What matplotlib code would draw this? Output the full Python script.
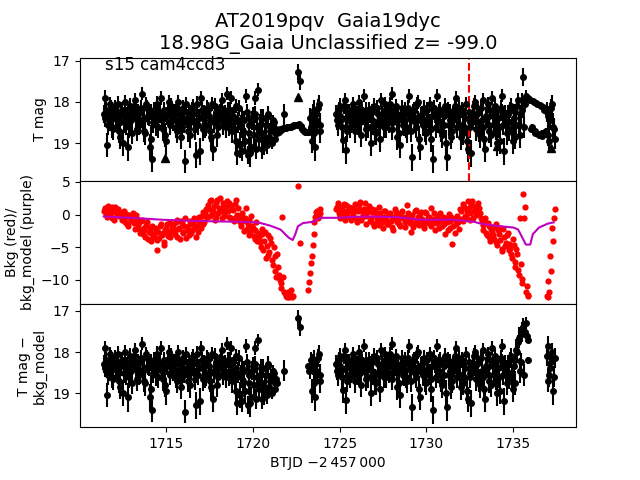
import numpy as np
import matplotlib
matplotlib.use("Agg")
import matplotlib.pyplot as plt

nan = np.nan

# cadences (BTJD): two interleaved 0.1 d grids per orbit
grid_a = (1711.4, 1723.9, 126)
grid_c = (1711.45, 1723.85, 125)
grid_b = (1724.8, 1737.4, 127)
grid_d = (1724.85, 1737.35, 126)

# ---- orbit 1, grid a ----
tmag_a = [18.30, 17.90, 19.05, 18.45, 18.15, 18.60, 18.25, 18.40, 18.05, 18.70,
          18.35, 19.00, 18.20, 18.55, 19.10, 18.10, 18.45, 18.30, 17.95, 18.65,
          18.25, 18.50, 17.80, 18.40, 18.75, 18.15, 18.35, 18.90, 19.40, 18.20,
          18.55, 18.05, 18.30, 17.90, 18.65, 18.40, 18.95, 18.20, 18.50, 18.10,
          18.45, 18.25, 18.70, 18.00, 18.35, 18.60, 18.15, 19.45, 18.40, 18.30,
          18.80, 18.20, 18.50, 19.30, 18.05, 18.40, 17.90, 18.65, 18.30, 18.55,
          18.20, 18.45, 18.85, 19.15, 18.10, 18.35, 18.60, 18.25, 17.95, 18.50,
          18.30, 17.80, 18.55, 18.20, 18.70, 18.40, 18.95, 19.25, 18.15, 18.60,
          19.20, 18.45, 17.85, 19.30, 18.75, 19.10, 18.35, 17.90, 19.15, 17.70,
          18.55, 19.15, 18.40, 18.85, 19.05, 18.30, 18.70, 19.00, 18.50, 18.90,
          18.75, 18.72, 18.68, 18.65, 18.30, 18.63, 18.62, 18.60, 18.60, 18.58,
          18.57, 18.55, 17.27, 17.49, 18.60, 18.68, 18.72, 18.74, 18.73, 18.40,
          18.95, 18.20, 19.10, 18.50, 18.05, 18.70]
err_a = [0.22, 0.18, 0.30, 0.25, 0.20, 0.28, 0.21, 0.24, 0.19, 0.30,
         0.23, 0.32, 0.20, 0.26, 0.35, 0.19, 0.25, 0.22, 0.18, 0.29,
         0.21, 0.27, 0.16, 0.24, 0.31, 0.20, 0.23, 0.33, 0.30, 0.21,
         0.27, 0.19, 0.22, 0.17, 0.29, 0.24, 0.33, 0.21, 0.26, 0.19,
         0.25, 0.21, 0.30, 0.18, 0.23, 0.28, 0.20, 0.28, 0.24, 0.22,
         0.31, 0.20, 0.26, 0.32, 0.19, 0.24, 0.17, 0.29, 0.22, 0.27,
         0.21, 0.25, 0.32, 0.30, 0.19, 0.23, 0.28, 0.21, 0.18, 0.26,
         0.22, 0.16, 0.27, 0.20, 0.30, 0.24, 0.33, 0.28, 0.20, 0.28,
         0.25, 0.24, 0.17, 0.22, 0.30, 0.25, 0.22, 0.17, 0.24, 0.15,
         0.25, 0.24, 0.22, 0.26, 0.22, 0.20, 0.18, 0.15, 0.12, 0.10,
         0.08, 0.06, 0.06, 0.06, 0.25, 0.06, 0.06, 0.06, 0.06, 0.06,
         0.06, 0.06, 0.20, 0.22, 0.06, 0.06, 0.06, 0.06, 0.07, 0.25,
         0.30, 0.24, 0.33, 0.28, 0.22, 0.30]
bkg_a = [0.5, 1.0, -0.3, 0.8, 0.2, 1.2, -0.8, 0.4, 0.9, -0.2,
         0.3, -0.6, -1.2, 0.1, -1.8, -0.4, -1.0, 0.2, -2.2, -0.7,
         -1.5, -2.8, -0.9, -2.0, -3.4, -1.2, -2.6, -4.0, -1.8, -3.1,
         -2.3, -5.5, -3.6, -1.4, -2.9, -4.2, -2.0, -3.3, -1.1, -2.5,
         -1.6, -3.0, -0.8, -2.2, -3.8, -1.3, -2.7, -0.5, -1.9, -3.2,
         -1.0, -2.4, -0.6, -3.5, -1.7, -0.3, -2.1, 0.4, -1.2, 0.8,
         1.5, -0.2, 2.3, 0.6, -0.8, 1.8, 0.2, 2.6, -0.5, 1.1,
         0.4, 2.0, -0.3, 1.4, 0.9, -1.0, 2.2, 0.0, -0.7, -1.8,
         -0.4, -2.5, 1.0, -1.5, -3.2, -0.2, -2.0, -3.8, -1.2, -2.8,
         -4.2, -3.0, -5.5, -2.6, -4.8, -6.2, -3.6, -7.0, -5.0, -8.7,
         -6.0, -9.2, -10.5, -0.3, -11.8, -12.5, -12.2, -12.7, -11.5, -12.4,
         nan, nan, 4.4, -4.4, nan, nan, nan, nan, -11.5, -9.0,
         -6.4, -3.0, -0.3, 0.6, -0.2, 0.9]
tmag_corr_a = tmag_a[:101] + [nan, nan, nan, 18.45, nan, nan, nan, nan, nan, nan,
                              nan, 17.17, 17.39, nan, nan, nan, nan, 18.35, 18.40,
                              18.95, 18.20, 19.10, 18.50, 18.05, 18.70]

# ---- orbit 1, grid c ----
tmag_c = [18.40, 18.20, 18.55, 18.05, 18.35, 18.65, 18.15, 18.45, 18.30, 18.85,
          18.20, 18.50, 18.00, 18.35, 18.60, 18.25, 18.75, 18.10, 18.40, 18.30,
          18.55, 18.15, 18.45, 18.70, 18.05, 18.35, 19.10, 18.25, 18.50, 18.40,
          18.10, 18.60, 18.30, 18.45, 18.20, 18.80, 18.35, 18.00, 18.55, 18.40,
          18.30, 18.60, 18.15, 18.45, 18.85, 18.25, 18.50, 18.05, 18.70, 18.35,
          18.45, 18.10, 18.65, 18.30, 18.55, 19.20, 18.20, 18.40, 18.60, 18.15,
          18.35, 18.70, 18.05, 18.50, 18.25, 18.80, 18.40, 18.15, 18.55, 18.30,
          18.60, 18.20, 18.45, 17.90, 18.35, 18.65, 18.10, 18.50, 19.05, 18.40,
          18.70, 18.95, 18.25, 18.55, 19.25, 18.45, 18.80, 18.30, 18.60, 18.90,
          18.40, 18.75, 19.00, 18.55, 18.35, 18.85, 18.60, 18.45, 18.75, 18.65,
          18.70, 18.67, 18.66, 18.64, 18.63, 18.62, 18.61, 18.60, 18.59, 18.57,
          18.56, 18.55, 18.54, 18.58, 18.65, 18.70, 18.73, 18.74, 18.72, 18.60,
          18.30, 18.75, 18.45, 18.15, 18.55]
err_c = [0.21, 0.19, 0.25, 0.18, 0.22, 0.27, 0.20, 0.24, 0.21, 0.30,
         0.19, 0.25, 0.17, 0.22, 0.27, 0.20, 0.28, 0.18, 0.23, 0.21,
         0.26, 0.19, 0.24, 0.28, 0.18, 0.22, 0.32, 0.20, 0.25, 0.23,
         0.18, 0.27, 0.21, 0.24, 0.19, 0.29, 0.22, 0.17, 0.26, 0.23,
         0.21, 0.27, 0.19, 0.24, 0.30, 0.20, 0.25, 0.18, 0.28, 0.22,
         0.24, 0.18, 0.27, 0.21, 0.26, 0.33, 0.19, 0.23, 0.27, 0.19,
         0.22, 0.28, 0.18, 0.25, 0.20, 0.29, 0.23, 0.19, 0.26, 0.21,
         0.27, 0.19, 0.24, 0.16, 0.22, 0.28, 0.18, 0.25, 0.31, 0.23,
         0.28, 0.31, 0.20, 0.26, 0.33, 0.24, 0.29, 0.21, 0.27, 0.30,
         0.22, 0.25, 0.28, 0.22, 0.20, 0.22, 0.18, 0.14, 0.12, 0.10,
         0.07, 0.06, 0.06, 0.06, 0.06, 0.06, 0.06, 0.06, 0.06, 0.06,
         0.06, 0.06, 0.06, 0.06, 0.06, 0.06, 0.06, 0.06, 0.08, 0.20,
         0.25, 0.30, 0.25, 0.22, 0.27]
bkg_c = [0.9, 0.1, 1.3, 0.4, -0.5, 0.7, 1.1, -0.1, 0.6, 0.2,
         -0.8, 0.5, -0.3, -1.5, 0.0, -0.9, -0.4, -1.3, -0.1, -1.6,
         -2.2, -1.0, -3.0, -2.4, -1.6, -3.7, -2.1, -2.9, -3.5, -2.0,
         -3.9, -2.7, -1.8, -3.2, -4.6, -2.4, -1.5, -2.8, -3.4, -1.9,
         -2.4, -1.2, -3.4, -2.0, -1.0, -2.9, -1.7, -3.6, -2.3, -1.4,
         -2.8, -1.5, -2.0, -0.9, -2.6, -1.1, -0.2, -1.5, 0.3, -0.4,
         0.9, 2.0, 0.1, 1.3, -0.3, 2.2, 1.0, 0.5, 1.7, -0.2,
         1.2, 0.6, 1.8, -0.5, 0.7, 1.6, -0.4, 1.0, -1.2, 0.3,
         -1.0, -0.6, -2.2, -0.9, -2.6, -1.7, -3.3, -2.3, -4.0, -3.5,
         -5.0, -2.2, -4.0, -6.6, -3.2, -5.8, -4.4, -7.8, -6.3, -9.5,
         -8.0, -10.0, -11.2, -9.5, -12.0, -12.6, -11.9, -12.3, -12.6, nan,
         nan, nan, nan, nan, nan, nan, nan, nan, -10.4, -7.4,
         -4.6, -1.2, 0.4, -0.6, 0.2]
tmag_corr_c = tmag_c[:100] + [nan] * 18 + [18.45, 18.20, 18.30, 18.75, 18.45, 18.15, 18.55]

# ---- orbit 2, grid b ----
tmag_b = [18.30, 18.55, 18.10, 18.45, 18.93, 17.95, 19.17, 18.25, 18.60, 18.40,
          18.15, 18.70, 18.35, 18.00, 18.50, 18.25, 17.85, 18.65, 18.40, 18.20,
          19.00, 18.45, 18.10, 18.75, 18.30, 18.55, 17.95, 18.40, 18.20, 18.60,
          18.35, 18.05, 17.80, 18.50, 18.25, 18.85, 18.40, 19.05, 18.15, 18.55,
          18.30, 18.70, 17.85, 18.45, 19.35, 18.20, 18.60, 18.00, 18.90, 18.35,
          18.55, 18.15, 18.75, 18.40, 18.05, 18.65, 19.40, 18.30, 17.85, 18.50,
          18.20, 18.80, 18.35, 18.10, 19.35, 18.55, 18.25, 18.70, 18.40, 17.90,
          18.45, 18.15, 18.85, 18.30, 18.60, 18.05, 19.15, 18.50, 19.25, 18.35,
          18.00, 18.65, 18.25, 18.80, 18.45, 17.95, 19.15, 18.40, 18.70, 18.20,
          17.90, 18.55, 18.35, 19.00, 18.60, 18.15, 17.85, 19.20, 18.45, 18.30,
          18.65, 18.10, 18.95, 18.25, 18.55, 17.95, 18.80, 18.20, 17.40, 18.05,
          17.90, 17.92, 17.95, 18.60, 18.00, 18.75, 18.05, 18.80, 18.10, 18.75,
          18.20, 18.70, 18.35, 18.95, 18.15, 18.60, 18.90]
err_b = [0.22, 0.27, 0.19, 0.24, 0.31, 0.17, 0.33, 0.21, 0.28, 0.24,
         0.20, 0.30, 0.23, 0.18, 0.26, 0.21, 0.16, 0.29, 0.24, 0.20,
         0.32, 0.25, 0.19, 0.30, 0.22, 0.27, 0.17, 0.24, 0.20, 0.28,
         0.23, 0.18, 0.16, 0.26, 0.21, 0.31, 0.24, 0.32, 0.20, 0.27,
         0.22, 0.29, 0.17, 0.25, 0.33, 0.20, 0.28, 0.18, 0.31, 0.23,
         0.27, 0.19, 0.30, 0.24, 0.18, 0.28, 0.34, 0.22, 0.16, 0.26,
         0.20, 0.31, 0.23, 0.19, 0.33, 0.27, 0.21, 0.30, 0.24, 0.17,
         0.25, 0.19, 0.32, 0.22, 0.28, 0.18, 0.31, 0.26, 0.33, 0.23,
         0.18, 0.29, 0.21, 0.31, 0.25, 0.17, 0.32, 0.24, 0.30, 0.20,
         0.17, 0.27, 0.23, 0.32, 0.28, 0.20, 0.16, 0.33, 0.25, 0.22,
         0.29, 0.19, 0.32, 0.21, 0.27, 0.17, 0.31, 0.20, 0.22, 0.12,
         0.08, 0.08, 0.07, 0.06, 0.07, 0.06, 0.07, 0.06, 0.07, 0.06,
         0.07, 0.06, 0.25, 0.30, 0.22, 0.33, 0.24]
bkg_b = [0.8, 1.8, -0.2, 1.2, 0.3, -0.8, 1.5, 0.5, -0.4, 1.0,
         0.2, 1.6, -1.2, 0.7, 1.9, -0.3, 0.9, -1.5, 0.4, 1.3,
         -0.6, 0.8, -1.8, 0.1, -1.0, 1.1, -0.4, -2.0, 0.5, -0.9,
         -1.4, 0.3, -0.7, -2.3, 0.9, -1.1, -0.2, -1.7, 0.6, -0.5,
         -1.9, 1.4, -0.8, -2.6, 0.0, -1.3, 0.7, -0.4, -1.6, 0.4,
         -1.0, -2.1, 0.2, -0.6, -1.5, 1.0, -0.9, -2.4, -0.2, -1.2,
         0.3, -1.8, -0.5, -3.0, -1.1, 0.1, -2.0, -4.5, -0.7, -1.4,
         -0.3, -2.2, 0.5, -1.0, 1.2, -0.4, 2.0, 0.3, 1.5, -0.6,
         0.8, -0.1, 1.8, 0.2, -1.0, -2.4, -0.5, -3.2, -1.8, -4.0,
         -2.6, -3.8, -1.5, -4.6, -3.0, -2.0, -5.2, -3.5, -4.3, -2.8,
         -4.5, -6.0, -3.8, -7.2, -5.3, -8.5, -0.5, -9.8, 3.2, 1.2,
         -11.0, -12.5, nan, nan, nan, nan, nan, nan, nan, nan,
         nan, nan, -12.7, -11.8, -8.7, -4.1, 0.8]
tmag_corr_b = tmag_b[:100] + [18.60, 18.10, 18.90, 18.20, 17.95, 17.75, 18.45, 17.55, 17.40, 17.50,
                              17.60, 18.20, nan, nan, nan, nan, nan, nan, nan, nan,
                              nan, nan, 17.85, 18.55, 18.25, 18.95, 18.15]

# ---- orbit 2, grid d ----
tmag_d = [18.45, 18.20, 18.35, 18.60, 18.10, 18.40, 18.70, 18.25, 18.50, 18.05,
          18.40, 18.30, 18.55, 18.15, 18.80, 18.35, 18.45, 18.20, 18.60, 18.30,
          18.25, 18.55, 18.70, 18.15, 18.45, 18.90, 18.30, 18.60, 18.05, 18.40,
          18.50, 18.20, 18.65, 18.35, 18.10, 18.45, 18.75, 18.30, 18.55, 18.20,
          18.60, 18.15, 18.40, 18.70, 18.25, 18.50, 18.05, 18.45, 19.10, 18.30,
          18.45, 18.70, 18.20, 18.55, 18.90, 18.35, 18.15, 18.60, 18.40, 18.25,
          18.70, 18.30, 18.55, 19.00, 18.20, 18.45, 18.85, 18.35, 18.10, 18.60,
          18.30, 18.55, 18.20, 18.75, 18.40, 18.95, 18.25, 18.60, 18.45, 18.10,
          18.50, 18.30, 18.70, 18.15, 18.60, 18.90, 18.35, 18.05, 18.55, 18.80,
          18.35, 18.10, 18.65, 18.40, 18.95, 18.25, 18.55, 18.30, 18.75, 18.50,
          18.20, 18.70, 18.40, 18.85, 18.10, 18.55, 18.30, 17.95, 18.60, 17.85,
          17.91, 17.93, 18.65, 17.98, 18.70, 18.02, 18.78, 18.08, 18.82, 18.12,
          18.72, 18.25, 18.80, 18.45, 18.05, 18.65]
err_d = [0.24, 0.20, 0.22, 0.27, 0.19, 0.23, 0.28, 0.21, 0.25, 0.18,
         0.23, 0.21, 0.26, 0.19, 0.29, 0.22, 0.24, 0.20, 0.27, 0.21,
         0.21, 0.26, 0.28, 0.19, 0.24, 0.31, 0.21, 0.27, 0.18, 0.23,
         0.25, 0.20, 0.27, 0.22, 0.18, 0.24, 0.29, 0.21, 0.26, 0.20,
         0.27, 0.19, 0.23, 0.28, 0.21, 0.25, 0.18, 0.24, 0.32, 0.21,
         0.24, 0.28, 0.20, 0.26, 0.31, 0.22, 0.19, 0.27, 0.23, 0.21,
         0.28, 0.21, 0.26, 0.32, 0.20, 0.24, 0.30, 0.22, 0.19, 0.27,
         0.21, 0.26, 0.20, 0.29, 0.23, 0.31, 0.21, 0.27, 0.24, 0.19,
         0.25, 0.21, 0.28, 0.19, 0.27, 0.31, 0.22, 0.18, 0.26, 0.29,
         0.22, 0.19, 0.27, 0.23, 0.31, 0.21, 0.26, 0.22, 0.29, 0.25,
         0.20, 0.28, 0.23, 0.30, 0.19, 0.26, 0.22, 0.18, 0.27, 0.15,
         0.07, 0.07, 0.06, 0.07, 0.06, 0.07, 0.06, 0.07, 0.06, 0.07,
         0.06, 0.25, 0.28, 0.24, 0.22, 0.26]
bkg_d = [1.2, 0.3, -0.6, 0.9, 1.6, -0.1, 0.6, 1.1, -0.9, 0.4,
         1.0, -0.5, 0.5, 1.4, -0.8, 0.2, 1.7, -0.2, 0.8, -1.0,
         0.4, -1.3, 0.7, -0.5, -1.6, 0.2, -1.1, 0.6, -0.3, -1.4,
         0.1, -1.0, -1.9, -0.3, 0.4, -0.8, -1.4, 0.2, -0.6, -1.2,
         -0.4, 0.3, -1.3, -0.6, -1.9, 0.5, -0.9, -1.5, 0.1, -0.7,
         -1.6, 0.4, -1.1, -0.3, -1.8, -0.7, 0.3, -1.3, -0.5, -2.0,
         -0.9, -0.3, -1.5, -0.6, -2.3, -1.0, -0.4, -1.7, -2.8, -0.2,
         -1.1, 0.8, -0.7, 1.6, -0.2, 0.6, 1.0, -0.8, 2.1, 0.5,
         1.3, 0.2, 1.0, -0.6, -1.6, -0.9, -2.8, -1.3, -3.5, -2.2,
         -3.2, -1.9, -4.2, -2.4, -3.9, -5.6, -2.2, -4.8, -3.2, -5.5,
         -5.1, -6.7, -4.6, -8.0, -6.0, -9.2, -7.5, -10.5, -0.5, -11.8,
         -12.3, nan, nan, nan, nan, nan, nan, nan, nan, nan,
         nan, -12.5, -10.2, -6.4, -2.0, -0.5]
tmag_corr_d = tmag_d[:100] + [18.20, 18.65, 18.35, 18.75, 18.00, 17.65, 18.25, 17.45, 18.55, 17.30,
                              17.70, nan, nan, nan, nan, nan, nan, nan, nan, nan,
                              nan, 18.10, 18.70, 18.40, 18.00, 18.60]

# upper limits (triangles)
lim_t = [1714.95, 1719.75, 1722.63, 1734.1, 1737.2]
lim_mag = [19.37, 19.12, 17.88, 19.07, 19.12]

# smoothed background model
model_t = [1711.4, 1713.0, 1714.8, 1717.0, 1719.0, 1720.3, 1721.0, 1721.6, 1722.05,
           1722.3, 1722.45, 1722.6, 1722.9, 1723.5, 1723.9, 1724.8, 1725.5, 1726.5,
           1728.35, 1729.7, 1731.6, 1732.75, 1733.15, 1734.3, 1735.05, 1735.3,
           1735.5, 1735.75, 1736.0, 1736.15, 1736.5, 1737.0, 1737.35]
model_bkg = [-0.3, -0.5, -0.8, -1.0, -1.1, -1.2, -1.7, -2.3, -3.5,
             -3.9, -3.0, -1.8, -1.3, -1.1, -0.5, -0.5, -0.4, -0.3,
             -0.4, -0.8, -0.8, -1.1, -1.4, -1.8, -2.0, -2.3,
             -3.3, -4.6, -4.6, -3.0, -2.0, -1.4, -1.2]

discovery_t = 1732.45


def main():
    t = np.concatenate([np.linspace(*g) for g in (grid_a, grid_c, grid_b, grid_d)])
    tmag = np.array(tmag_a + tmag_c + tmag_b + tmag_d)
    err = np.array(err_a + err_c + err_b + err_d)
    bkg = np.array(bkg_a + bkg_c + bkg_b + bkg_d)
    tmag_corr = np.array(tmag_corr_a + tmag_corr_c + tmag_corr_b + tmag_corr_d)

    fig, (ax1, ax2, ax3) = plt.subplots(3, 1, sharex=True, figsize=(6.4, 4.8), dpi=100,
                                        gridspec_kw={'hspace': 0})

    ax1.errorbar(t, tmag, yerr=err, fmt='o', color='k', ms=4)
    ax1.plot(lim_t, lim_mag, 'k^', ms=6)
    ax1.axvline(discovery_t, color='r', ls='--')
    ax1.set_ylim(19.92, 16.92)
    ax1.set_ylabel('T mag')
    ax1.text(0.05, 0.9, 's15 cam4ccd3', transform=ax1.transAxes, fontsize=12)
    ax1.set_title('AT2019pqv  Gaia19dyc\n18.98G_Gaia Unclassified z= -99.0', fontsize=14)

    ax2.plot(t, bkg, 'o', color='r', ms=4.5, mew=0)
    ax2.plot(model_t, model_bkg, color='m', lw=1.5)
    ax2.set_ylim(-13.7, 5.17)
    ax2.set_ylabel('Bkg (red)/\nbkg_model (purple)')

    ax3.errorbar(t, tmag_corr, yerr=err, fmt='o', color='k', ms=4)
    ax3.set_ylim(19.83, 16.83)
    ax3.set_ylabel('T mag \u2212\nbkg_model')
    ax3.set_xlim(1710.03, 1738.64)
    ax3.set_xlabel('BTJD \u22122\u2009457\u2009000')

    fig.savefig('out.png', dpi=100)


if __name__ == '__main__':
    main()
